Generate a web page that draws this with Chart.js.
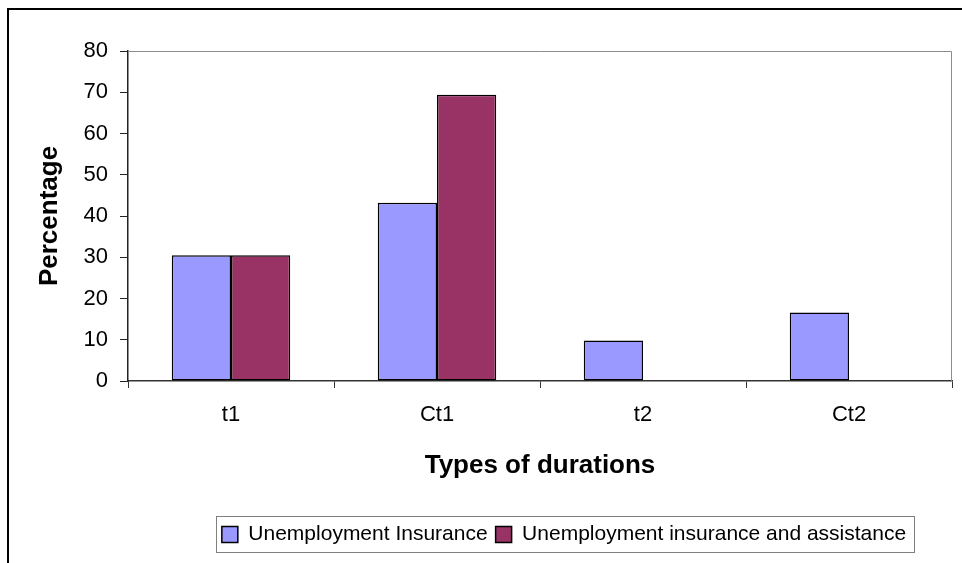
<!DOCTYPE html>
<html>
<head>
<meta charset="utf-8">
<script src="https://cdn.jsdelivr.net/npm/chart.js@4"></script>
<style>
    body { margin: 0; background: #fff; }
    #wrap { width: 962px; height: 563px; position: relative; }
</style>
</head>
<body>
<div id="wrap"><canvas id="chart"></canvas></div>
<script>
const categories = ['t1', 'Ct1', 't2', 'Ct2'];
const insuranceOnly = [30.5, 43.2, 9.8, 16.6];
const insuranceAndAssistance = [30.5, 69.4, null, null];
const yMin = 0;
const yMax = 80;
const yStep = 10;

const FONT = "'Liberation Sans', Arial, sans-serif";

// Excel-like frame: outer border lines, gray plot-area edge, boxed legend
const framePlugin = {
    id: 'frame',
    afterLayout(chart) {
        // legend sits right of centre in the original
        chart.legend.left += 88;
        chart.legend.right += 88;
    },
    beforeDatasetsDraw(chart) {
        const a = chart.chartArea;
        const ctx = chart.ctx;
        ctx.save();
        ctx.strokeStyle = '#8c8c8c';
        ctx.lineWidth = 1;
        ctx.beginPath();
        ctx.moveTo(a.left, a.top + 0.5);
        ctx.lineTo(a.right - 0.5, a.top + 0.5);
        ctx.lineTo(a.right - 0.5, a.bottom);
        ctx.stroke();
        ctx.restore();
    },
    afterDraw(chart) {
        const ctx = chart.ctx;
        ctx.save();
        ctx.strokeStyle = '#000';
        ctx.lineWidth = 2;
        ctx.beginPath();
        ctx.moveTo(8, 563);
        ctx.lineTo(8, 9);
        ctx.lineTo(962, 9);
        ctx.stroke();

        let hb = chart.legend.legendHitBoxes;
        if (hb && hb.length) {
            let first = hb[0], last = hb[hb.length - 1];
            let x0 = Math.round(first.left - 6) + 0.5;
            let x1 = Math.round(last.left + last.width + 8) + 0.5;
            let y0 = Math.round(first.top - 8) + 0.5;
            let y1 = Math.round(first.top + first.height + 7) + 0.5;
            ctx.strokeStyle = '#808080';
            ctx.lineWidth = 1;
            ctx.strokeRect(x0, y0, x1 - x0, y1 - y0);
        }
        ctx.restore();
    }
};

new Chart(document.getElementById('chart'), {
    type: 'bar',
    data: {
        labels: categories,
        datasets: [{
            label: 'Unemployment Insurance',
            data: insuranceOnly,
            backgroundColor: '#9999ff',
            borderColor: '#000',
            borderWidth: 1.5,
            borderSkipped: false
        }, {
            label: 'Unemployment insurance and assistance',
            data: insuranceAndAssistance,
            backgroundColor: '#993366',
            borderColor: '#000',
            borderWidth: 1.5,
            borderSkipped: false
        }]
    },
    options: {
        responsive: true,
        maintainAspectRatio: false,
        animation: false,
        events: [],
        layout: {
            padding: { left: 0, right: 10, top: 51, bottom: 8 }
        },
        datasets: {
            bar: { categoryPercentage: 0.575, barPercentage: 1.0 }
        },
        scales: {
            x: {
                grid: { offset: true, drawOnChartArea: false, drawTicks: true, tickLength: 7, color: '#333' },
                border: { display: true, color: '#333', width: 1.5 },
                ticks: { color: '#000', padding: 14, font: { family: FONT, size: 22 } },
                title: {
                    display: true,
                    text: 'Types of durations',
                    color: '#000',
                    font: { family: FONT, size: 26, weight: 'bold' },
                    padding: { top: 0, bottom: 35 }
                },
                afterFit: function (scale) { scale.height = 135; }
            },
            y: {
                min: yMin,
                max: yMax,
                grid: { drawOnChartArea: false, drawTicks: true, tickLength: 8, color: '#222' },
                border: { display: true, color: '#222', width: 1.5 },
                ticks: { stepSize: yStep, color: '#000', padding: 12, font: { family: FONT, size: 22 } },
                title: {
                    display: true,
                    text: 'Percentage',
                    color: '#000',
                    font: { family: FONT, size: 26, weight: 'bold' },
                    padding: { top: 34, bottom: 0 }
                },
                afterFit: function (scale) { scale.width = 128; }
            }
        },
        plugins: {
            legend: {
                display: true,
                position: 'bottom',
                labels: {
                    color: '#000',
                    boxWidth: 16,
                    boxHeight: 16,
                    padding: 8,
                    font: { family: FONT, size: 21 }
                }
            },
            tooltip: { enabled: false }
        }
    },
    plugins: [framePlugin]
});
</script>
</body>
</html>
